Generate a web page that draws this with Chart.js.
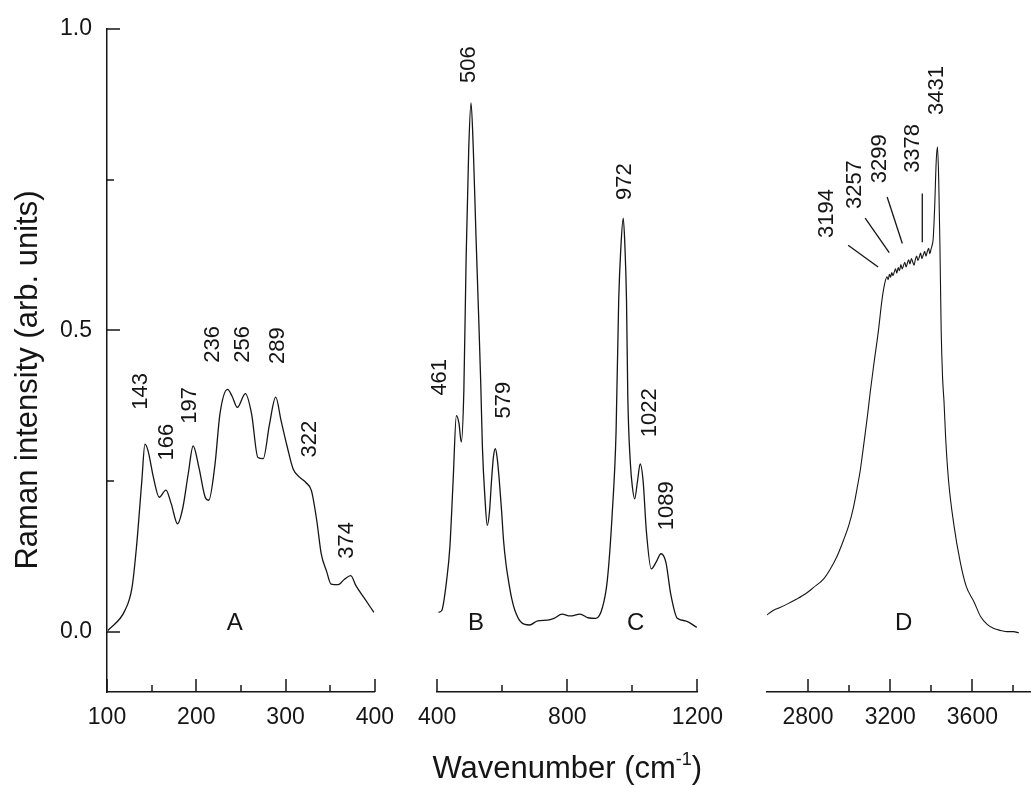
<!DOCTYPE html>
<html>
<head>
<meta charset="utf-8">
<title>Raman spectra</title>
<script src="https://cdn.jsdelivr.net/npm/chart.js@4.4.1/dist/chart.umd.min.js"></script>
<style>
  html, body { margin: 0; padding: 0; background: #fff; overflow: hidden; }
  #wrap { position: relative; width: 1031px; height: 788px; overflow: hidden; }
  .panel { position: absolute; top: 0; height: 788px; }
</style>
</head>
<body>
<div id="wrap">
  <div class="panel" style="left:0;width:406px"><canvas id="chartA"></canvas></div>
  <div class="panel" style="left:406px;width:329px"><canvas id="chartBC"></canvas></div>
  <div class="panel" style="left:735px;width:299px"><canvas id="chartD"></canvas></div>
</div>
<script>
// spectrum A (lattice region)
const waveA = [101, 120, 128, 133, 139, 142.5, 146, 152, 158.5, 166, 172, 179, 185, 191, 196.5, 203, 210, 214, 221, 226.5, 235, 240, 246, 255, 262, 269, 275, 282, 289, 295, 302, 308.5, 316, 323, 329, 335, 340, 346, 351, 359, 366, 373, 379, 389, 399];
const intA = [0.002, 0.035, 0.073, 0.14, 0.25, 0.311, 0.30, 0.256, 0.223, 0.235, 0.212, 0.179, 0.206, 0.262, 0.308, 0.272, 0.223, 0.218, 0.278, 0.361, 0.402, 0.391, 0.372, 0.395, 0.361, 0.289, 0.287, 0.344, 0.389, 0.350, 0.306, 0.270, 0.256, 0.247, 0.234, 0.184, 0.129, 0.10, 0.079, 0.078, 0.087, 0.093, 0.076, 0.054, 0.032];

// spectra B and C (400-1200)
const waveBC = [404, 414, 429, 439, 449, 459, 467, 474, 482, 489, 497, 504, 511, 519, 527, 534, 539, 547, 554, 561, 567, 573, 579, 585, 591, 598, 604, 612, 619, 629, 639, 659, 684, 709, 739, 759, 784, 809, 839, 864, 888, 908, 923, 938, 950, 958, 965, 972, 977, 982, 986, 994, 1000, 1007, 1016, 1024, 1033, 1043, 1058, 1073, 1088, 1103, 1118, 1138, 1163, 1198];
const intBC = [0.032, 0.035, 0.085, 0.14, 0.25, 0.358, 0.345, 0.314, 0.40, 0.62, 0.80, 0.876, 0.80, 0.66, 0.53, 0.41, 0.306, 0.22, 0.176, 0.20, 0.25, 0.29, 0.303, 0.285, 0.25, 0.20, 0.151, 0.11, 0.085, 0.055, 0.035, 0.015, 0.011, 0.018, 0.019, 0.022, 0.029, 0.026, 0.029, 0.023, 0.022, 0.04, 0.085, 0.195, 0.333, 0.549, 0.64, 0.685, 0.64, 0.549, 0.389, 0.278, 0.24, 0.22, 0.25, 0.278, 0.25, 0.167, 0.104, 0.115, 0.129, 0.115, 0.062, 0.022, 0.018, 0.007];

// spectrum D (OH stretching)
const waveD = [2597, 2630, 2663, 2700, 2745, 2793, 2826, 2875, 2907, 2940, 2972, 3000, 3021, 3040, 3054, 3066, 3078, 3090, 3102, 3119, 3143, 3160, 3172, 3184, 3190, 3196, 3202, 3207, 3213, 3220, 3226, 3232, 3239, 3245, 3252, 3258, 3264, 3271, 3277, 3284, 3290, 3296, 3303, 3310, 3316, 3322, 3329, 3335, 3342, 3348, 3354, 3361, 3368, 3374, 3380, 3387, 3393, 3399, 3404, 3409, 3416, 3424, 3430, 3436, 3442, 3448, 3455, 3462, 3470, 3484, 3509, 3541, 3570, 3607, 3640, 3672, 3705, 3737, 3770, 3800, 3826];
const intD = [0.027, 0.035, 0.04, 0.046, 0.054, 0.064, 0.073, 0.087, 0.103, 0.124, 0.151, 0.178, 0.206, 0.24, 0.267, 0.297, 0.328, 0.36, 0.395, 0.44, 0.50, 0.55, 0.575, 0.588, 0.583, 0.592, 0.587, 0.595, 0.59, 0.596, 0.601, 0.594, 0.603, 0.598, 0.608, 0.601, 0.606, 0.612, 0.604, 0.611, 0.616, 0.609, 0.618, 0.612, 0.607, 0.616, 0.622, 0.615, 0.621, 0.627, 0.618, 0.624, 0.63, 0.622, 0.629, 0.635, 0.626, 0.634, 0.64, 0.65, 0.70, 0.78, 0.803, 0.75, 0.64, 0.50, 0.42, 0.38, 0.32, 0.25, 0.179, 0.115, 0.075, 0.05, 0.025, 0.012, 0.005, 0.002, 0.0, 0.0, -0.002];

// axes
const yTicks = [0, 0.25, 0.5, 0.75, 1.0];
const yLabels = [0, 0.5, 1.0];
const xTicksA = [100, 150, 200, 250, 300, 350, 400];
const xLabelsA = [100, 200, 300, 400];
const xTicksBC = [400, 600, 800, 1000, 1200];
const xLabelsBC = [400, 800, 1200];
const xTicksD = [2800, 3000, 3200, 3400, 3600, 3800];
const xLabelsD = [2800, 3200, 3600];

// peak annotations: text, x anchor, y anchor (start of the rotated text)
const peaksA = ["143", "166", "197", "236", "256", "289", "322", "374"];
const peakXA = [138, 167, 193, 219, 252, 291, 327, 369];
const peakYA = [0.368, 0.284, 0.345, 0.446, 0.446, 0.444, 0.289, 0.121];
const peaksBC = ["461", "506", "579", "972", "1022", "1089"];
const peakXBC = [409, 499, 604, 978, 1053, 1107];
const peakYBC = [0.391, 0.909, 0.353, 0.715, 0.322, 0.168];
const peaksD = ["3194", "3257", "3299", "3378", "3431"];
const peakXD = [2893, 3029, 3151, 3312, 3429];
const peakYD = [0.652, 0.70, 0.743, 0.760, 0.856];

// leader lines in D
const leaderX1 = [2995, 3078, 3185, 3356];
const leaderY1 = [0.640, 0.685, 0.720, 0.726];
const leaderX2 = [3141, 3195, 3259, 3356];
const leaderY2 = [0.604, 0.628, 0.643, 0.645];

const FONT = '"Liberation Sans", Arial, Helvetica, sans-serif';
const INK = "#151515";

function toPoints(xs, ys) {
  return xs.map((x, i) => ({ x: x, y: ys[i] }));
}

const decor = {
  id: "decor",
  afterDraw(chart, args, opts) {
    const ctx = chart.ctx;
    const xs = chart.scales.x, ys = chart.scales.y;
    ctx.save();
    ctx.strokeStyle = INK;
    ctx.lineWidth = 1.5;
    // inward x ticks
    opts.xTicks.forEach(v => {
      const px = Math.round(xs.getPixelForValue(v));
      const len = opts.xLabels.includes(v) ? 13 : 7;
      ctx.beginPath();
      ctx.moveTo(px, xs.top);
      ctx.lineTo(px, xs.top - len);
      ctx.stroke();
    });
    // inward y ticks
    if (opts.yAxis) {
      yTicks.forEach(v => {
        const py = Math.round(ys.getPixelForValue(v));
        const len = yLabels.includes(v) ? 13 : 7;
        ctx.beginPath();
        ctx.moveTo(ys.right, py);
        ctx.lineTo(ys.right + len, py);
        ctx.stroke();
      });
    }
    ctx.fillStyle = INK;
    // peak labels
    ctx.font = "22px " + FONT;
    ctx.textAlign = "left";
    ctx.textBaseline = "middle";
    opts.peaks.forEach((t, i) => {
      const px = xs.getPixelForValue(opts.peakX[i]);
      const py = ys.getPixelForValue(opts.peakY[i]);
      ctx.save();
      ctx.translate(px, py);
      ctx.rotate(-Math.PI / 2);
      ctx.fillText(t, 0, 0);
      ctx.restore();
    });
    // panel letters
    ctx.font = "24px " + FONT;
    ctx.textAlign = "center";
    opts.letters.forEach((t, i) => {
      ctx.fillText(t, xs.getPixelForValue(opts.letterX[i]), ys.getPixelForValue(0.013));
    });
    // axis titles
    if (opts.yTitle) {
      ctx.save();
      ctx.font = "31px " + FONT;
      ctx.translate(28, 380);
      ctx.rotate(-Math.PI / 2);
      ctx.fillText(opts.yTitle, 0, 0);
      ctx.restore();
    }
    if (opts.xTitle) {
      const main = "Wavenumber (cm", sup = "-1", tail = ")";
      ctx.font = "31px " + FONT;
      const w1 = ctx.measureText(main).width, w3 = ctx.measureText(tail).width;
      ctx.font = "18px " + FONT;
      const w2 = ctx.measureText(sup).width;
      const cx = (xs.left + xs.right) / 2;
      let x0 = cx - (w1 + w2 + w3) / 2;
      const base = 778;
      ctx.textAlign = "left";
      ctx.textBaseline = "alphabetic";
      ctx.font = "31px " + FONT;
      ctx.fillText(main, x0, base);
      ctx.font = "18px " + FONT;
      ctx.fillText(sup, x0 + w1, base - 13);
      ctx.font = "31px " + FONT;
      ctx.fillText(tail, x0 + w1 + w2, base);
    }
    ctx.restore();
  }
};

function makePanel(id, cfg) {
  const datasets = [{
    data: toPoints(cfg.wave, cfg.inten),
    borderColor: INK,
    borderWidth: cfg.lineWidth || 1.3,
    pointRadius: 0,
    cubicInterpolationMode: "monotone",
    fill: false
  }].concat(cfg.extra || []);

  return new Chart(document.getElementById(id), {
    type: "line",
    data: { datasets: datasets },
    options: {
      responsive: true,
      maintainAspectRatio: false,
      animation: false,
      layout: { padding: { top: 28, right: cfg.padRight, bottom: 0, left: cfg.padLeft } },
      plugins: {
        legend: { display: false },
        tooltip: { enabled: false },
        decor: cfg.decor
      },
      scales: {
        x: {
          type: "linear",
          min: cfg.xMin,
          max: cfg.xMax,
          afterBuildTicks: s => { s.ticks = cfg.xTicks.map(v => ({ value: v })); },
          afterFit: s => { s.height = 96; },
          grid: { display: true, drawOnChartArea: false, drawTicks: false, color: "rgba(0,0,0,0)" },
          border: { display: true, color: INK, width: 1.5 },
          ticks: {
            padding: 12,
            color: INK,
            font: { family: FONT, size: 23 },
            maxRotation: 0,
            autoSkip: false,
            callback: v => cfg.xLabels.includes(v) ? String(v) : ""
          }
        },
        y: {
          type: "linear",
          display: cfg.showY,
          min: -0.1,
          max: 1.0,
          afterBuildTicks: s => { s.ticks = yTicks.map(v => ({ value: v })); },
          afterFit: s => { s.width = cfg.showY ? 107 : 0; },
          grid: { display: true, drawOnChartArea: false, drawTicks: false, color: "rgba(0,0,0,0)" },
          border: { display: true, color: INK, width: 1.5 },
          ticks: {
            padding: 15,
            color: INK,
            font: { family: FONT, size: 23 },
            autoSkip: false,
            callback: v => yLabels.includes(v) ? v.toFixed(1) : ""
          }
        }
      }
    },
    plugins: [decor]
  });
}

makePanel("chartA", {
  wave: waveA, inten: intA,
  xMin: 100, xMax: 400, xTicks: xTicksA, xLabels: xLabelsA,
  showY: true, padLeft: 0, padRight: 31,
  decor: {
    xTicks: xTicksA, xLabels: xLabelsA, yAxis: true,
    peaks: peaksA, peakX: peakXA, peakY: peakYA,
    letters: ["A"], letterX: [243],
    yTitle: "Raman intensity (arb. units)"
  }
});

makePanel("chartBC", {
  wave: waveBC, inten: intBC,
  xMin: 400, xMax: 1200, xTicks: xTicksBC, xLabels: xLabelsBC,
  showY: false, padLeft: 31, padRight: 31,
  decor: {
    xTicks: xTicksBC, xLabels: xLabelsBC, yAxis: false,
    peaks: peaksBC, peakX: peakXBC, peakY: peakYBC,
    letters: ["B", "C"], letterX: [519, 1010],
    xTitle: true
  }
});

const leaders = leaderX1.map((x, i) => ({
  data: [{ x: x, y: leaderY1[i] }, { x: leaderX2[i], y: leaderY2[i] }],
  borderColor: INK,
  borderWidth: 1.3,
  pointRadius: 0,
  tension: 0
}));

makePanel("chartD", {
  wave: waveD, inten: intD, lineWidth: 1.1,
  xMin: 2600, xMax: 3900, xTicks: xTicksD, xLabels: xLabelsD,
  showY: false, padLeft: 32, padRight: 0,
  extra: leaders,
  decor: {
    xTicks: xTicksD, xLabels: xLabelsD, yAxis: false,
    peaks: peaksD, peakX: peakXD, peakY: peakYD,
    letters: ["D"], letterX: [3265]
  }
});
</script>
</body>
</html>
